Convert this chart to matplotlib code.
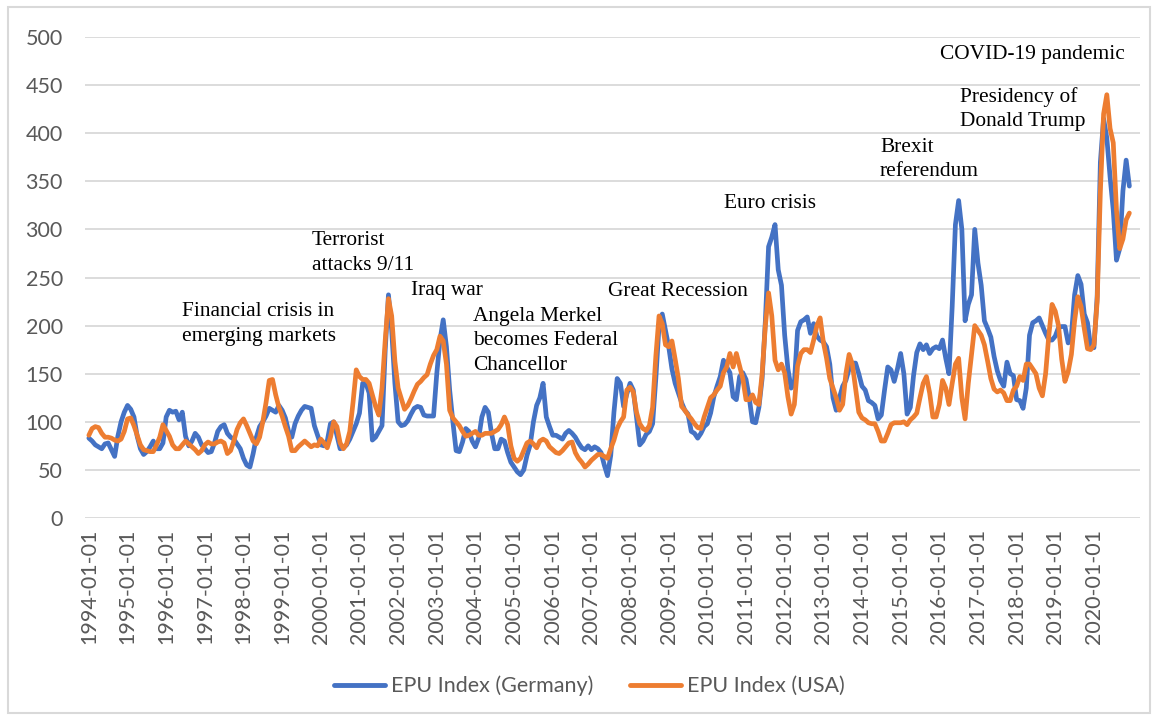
import matplotlib
matplotlib.use("Agg")
import matplotlib.pyplot as plt
from matplotlib.lines import Line2D
from matplotlib.patches import Rectangle

# monthly EPU index values, one row per year (1994 .. 2020)
epu_germany = [
    83, 80, 76, 74, 72, 77, 78, 71, 64, 85, 100, 110,      # 1994
    117, 113, 105, 85, 72, 66, 69, 74, 80, 72, 72, 78,     # 1995
    105, 112, 110, 111, 102, 110, 85, 75, 80, 88, 84, 76,  # 1996
    72, 68, 69, 78, 90, 95, 97, 88, 84, 82, 77, 72,        # 1997
    62, 55, 53, 67, 84, 95, 100, 106, 114, 112, 110, 117,  # 1998
    112, 104, 90, 84, 98, 106, 112, 116, 115, 114, 96, 86,  # 1999
    76, 75, 80, 98, 100, 86, 72, 73, 76, 82, 90, 98,       # 2000
    109, 140, 140, 130, 81, 84, 90, 96, 175, 232, 195, 140,  # 2001
    100, 96, 97, 101, 108, 114, 116, 115, 107, 106, 106, 106,  # 2002
    150, 185, 206, 178, 133, 100, 70, 69, 79, 93, 90, 80,  # 2003
    74, 83, 105, 115, 110, 88, 72, 72, 82, 80, 68, 58,     # 2004
    53, 48, 45, 50, 65, 76, 100, 117, 125, 140, 105, 95,   # 2005
    86, 86, 84, 82, 88, 91, 88, 84, 78, 73, 71, 75,        # 2006
    71, 74, 72, 68, 55, 44, 65, 110, 145, 140, 116, 129,   # 2007
    140, 133, 105, 76, 80, 87, 90, 98, 145, 200, 212, 195,  # 2008
    178, 155, 140, 130, 120, 112, 108, 90, 88, 83, 88, 95,  # 2009
    98, 109, 126, 137, 147, 164, 157, 151, 126, 123, 147, 151,  # 2010
    144, 125, 100, 99, 115, 145, 205, 282, 292, 305, 258, 242,  # 2011
    190, 155, 135, 140, 195, 204, 206, 209, 192, 202, 189, 185,  # 2012
    183, 178, 160, 125, 112, 125, 137, 143, 155, 161, 161, 150,  # 2013
    137, 133, 122, 120, 117, 103, 107, 133, 157, 154, 142, 155,  # 2014
    171, 150, 108, 115, 148, 172, 181, 175, 180, 171, 176, 178,  # 2015
    176, 185, 166, 150, 220, 305, 330, 300, 205, 222, 232, 300,  # 2016
    265, 242, 205, 197, 188, 168, 153, 143, 137, 162, 150, 148,  # 2017
    123, 122, 114, 135, 190, 203, 205, 208, 200, 192, 185, 185,  # 2018
    189, 198, 199, 199, 182, 190, 232, 252, 243, 212, 203, 177,  # 2019
    177, 230, 370, 415, 395, 355, 320, 268, 280, 340, 372, 345,  # 2020
]

epu_usa = [
    86, 93, 95, 94, 88, 84, 84, 83, 81, 80, 82, 90,        # 1994
    103, 104, 96, 86, 76, 71, 70, 69, 69, 76, 84, 97,      # 1995
    91, 85, 76, 72, 72, 76, 80, 77, 74, 71, 67, 70,        # 1996
    76, 79, 77, 77, 79, 80, 78, 67, 70, 80, 92, 99,        # 1997
    103, 96, 88, 80, 77, 84, 100, 120, 143, 144, 128, 115,  # 1998
    106, 95, 85, 70, 70, 74, 77, 80, 77, 74, 76, 75,       # 1999
    82, 78, 73, 84, 100, 95, 78, 72, 77, 90, 120, 154,     # 2000
    147, 144, 144, 140, 128, 116, 107, 135, 185, 228, 210, 163,  # 2001
    135, 124, 113, 117, 124, 132, 139, 142, 146, 149, 160, 169,  # 2002
    175, 189, 184, 160, 112, 104, 100, 96, 90, 85, 86, 88,  # 2003
    90, 86, 86, 88, 88, 88, 90, 92, 97, 105, 97, 75,       # 2004
    62, 59, 62, 70, 78, 80, 77, 73, 80, 82, 80, 74,        # 2005
    71, 68, 67, 70, 74, 78, 79, 68, 62, 58, 53, 56,        # 2006
    60, 63, 66, 66, 64, 62, 72, 81, 93, 100, 105, 133,     # 2007
    136, 131, 110, 98, 93, 91, 96, 115, 168, 210, 202, 180,  # 2008
    178, 184, 165, 145, 116, 112, 107, 103, 98, 94, 93, 105,  # 2009
    115, 125, 128, 133, 137, 151, 157, 171, 157, 171, 158, 145,  # 2010
    123, 123, 128, 120, 118, 150, 200, 234, 210, 164, 154, 160,  # 2011
    151, 126, 108, 118, 158, 171, 175, 175, 172, 185, 200, 208,  # 2012
    183, 166, 145, 135, 125, 112, 118, 150, 170, 160, 135, 110,  # 2013
    104, 102, 99, 98, 98, 90, 80, 80, 88, 97, 99, 99,      # 2014
    99, 100, 97, 102, 105, 109, 125, 140, 147, 130, 105, 105,  # 2015
    118, 143, 135, 118, 140, 160, 166, 125, 103, 140, 170, 200,  # 2016
    195, 190, 180, 163, 145, 134, 131, 133, 130, 122, 122, 133,  # 2017
    137, 147, 143, 160, 160, 155, 150, 135, 127, 150, 190, 222,  # 2018
    215, 200, 165, 142, 152, 170, 205, 230, 220, 197, 176, 175,  # 2019
    180, 225, 340, 420, 440, 405, 390, 320, 280, 290, 310, 317,  # 2020
]

years = list(range(1994, 2021))
months = ["%d-%02d-01" % (y, m) for y in years for m in range(1, 13)]
tick_labels = ["%d-01-01" % y for y in years]

notes = [
    (["COVID-19 pandemic"], 940, 55),
    (["Presidency of", "Donald Trump"], 960, 97),
    (["Brexit", "referendum"], 880, 147),
    (["Euro crisis"], 724, 203),
    (["Terrorist", "attacks 9/11"], 312, 241),
    (["Financial crisis in", "emerging markets"], 182, 312),
    (["Iraq war"], 411, 291),
    (["Angela Merkel", "becomes Federal", "Chancellor"], 473, 316),
    (["Great Recession"], 608, 291),
]

W, H = 1157, 720
gray = "#595959"

fig = plt.figure(figsize=(W / 100, H / 100), dpi=100)
ax = fig.add_axes([85 / W, 1 - 518 / H, (1140 - 85) / W, (518 - 37) / H])

x = list(range(len(months)))
ax.plot(x, epu_germany, color="#4472C4", lw=3.4, solid_joinstyle="round",
        solid_capstyle="round", label="EPU Index (Germany)")
ax.plot(x, epu_usa, color="#ED7D31", lw=3.4, solid_joinstyle="round",
        solid_capstyle="round", label="EPU Index (USA)")

ax.set_ylim(0, 500)
ax.set_xlim(-1.2, len(months) + 2.3)
ax.set_yticks(range(0, 501, 50))
ax.set_xticks([months.index(t) for t in tick_labels])
ax.set_xticklabels(tick_labels, rotation=90, family="Lato", fontsize=15.5, color=gray)
ax.tick_params(axis="y", labelsize=15.5, labelcolor=gray, length=0, pad=16)
ax.tick_params(axis="x", length=0, pad=8)
for lab in ax.get_yticklabels():
    lab.set_family("Lato")

ax.grid(axis="y", color="#D9D9D9", lw=1.3)
ax.set_axisbelow(True)
for s in ax.spines.values():
    s.set_visible(False)

# annotations, one text per line
for lines, px, py in notes:
    for i, line in enumerate(lines):
        fig.text(px / W, 1 - (py + i * 24.5) / H, line, family="Liberation Serif",
                 fontsize=15.4, color="black", ha="left", va="center")

handles = [Line2D([], [], color="#4472C4", lw=3.5, solid_capstyle="round"),
           Line2D([], [], color="#ED7D31", lw=3.5, solid_capstyle="round")]
leg = fig.legend(handles, ["EPU Index (Germany)", "EPU Index (USA)"], loc="center",
                 bbox_to_anchor=(589 / W, 1 - 686 / H), ncol=2, frameon=False,
                 prop={"family": "Lato", "size": 15.5}, handlelength=2.4,
                 handletextpad=0.25, columnspacing=1.7)
for t in leg.get_texts():
    t.set_color(gray)

# chart area border
fig.patches.append(Rectangle((8 / W, 1 - 713 / H), (1150 - 8) / W, (713 - 7) / H,
                             transform=fig.transFigure, fill=False,
                             edgecolor="#D9D9D9", lw=1.5))

fig.savefig("out.png", dpi=100)
